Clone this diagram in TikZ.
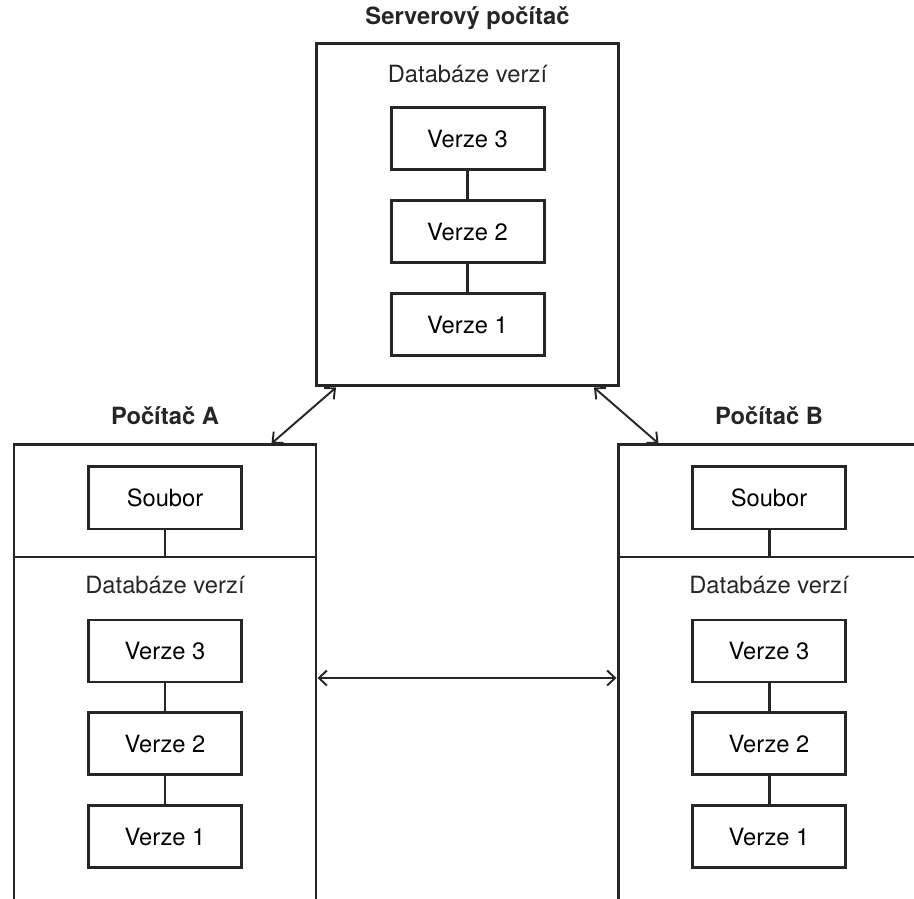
\documentclass[tikz,border=0pt]{standalone}
\usepackage{fontspec}
\setmainfont{TeX Gyre Heros}
\usepackage{tikz}
\usetikzlibrary{arrows.meta,positioning}

\begin{document}
\begin{tikzpicture}[
  node distance=0.56cm,
  font=\fontsize{13.5}{16}\selectfont,
  machine/.style={rectangle, draw=black!85, line width=1.7pt, minimum width=6.04cm,
                  inner sep=0pt},
  version/.style={rectangle, draw=black!85, line width=1.7pt, minimum width=3.06cm,
                  minimum height=1.24cm, inner sep=0pt},
  title/.style={font=\fontsize{13.5}{16}\selectfont\bfseries, text=black!85},
  label/.style={text=black!85},
  tie/.style={draw=black!85, line width=1.7pt},
  sync/.style={{Straight Barb[length=1.6mm,width=3mm]}-{Straight Barb[length=1.6mm,width=3mm]},
               draw=black!85, line width=1.1pt},
]
\useasboundingbox (0,0) rectangle (18.28,17.96);

% Server with its version database
\node[machine, minimum height=6.84cm] (srv) at (9.35,13.66) {};
\node[title] (srvtitle) at (9.35,17.6) {Serverový počítač};
\node[label] (srvdb) at (9.35,16.48) {Databáze verzí};
\node[version] (sv3) at (9.35,15.18) {Verze 3};
\node[version, below=of sv3] (sv2) {Verze 2};
\node[version, below=of sv2] (sv1) {Verze 1};

% Computer A (open at the bottom)
\node[machine, minimum height=9.56cm] (pcA) at (3.3,4.28) {};
\node[title, above=0.25cm of pcA.north] (titleA) {Počítač A};
\node[version, below=0.44cm of pcA.north] (fileA) {Soubor};
\coordinate (cutA) at (3.3,6.82);
\node[label] (dbA) at (3.3,6.26) {Databáze verzí};
\node[version] (av3) at (3.3,4.94) {Verze 3};
\node[version, below=of av3] (av2) {Verze 2};
\node[version, below=of av2] (av1) {Verze 1};

% Computer B (open at the bottom, cut at the right)
\node[machine, minimum height=9.56cm] (pcB) at (15.38,4.28) {};
\node[title, above=0.25cm of pcB.north] (titleB) {Počítač B};
\node[version, below=0.44cm of pcB.north] (fileB) {Soubor};
\coordinate (cutB) at (15.38,6.82);
\node[label] (dbB) at (15.38,6.26) {Databáze verzí};
\node[version] (bv3) at (15.38,4.94) {Verze 3};
\node[version, below=of bv3] (bv2) {Verze 2};
\node[version, below=of bv2] (bv1) {Verze 1};

% Dividers and version chains
\draw[tie] (pcA.west |- cutA) -- (pcA.east |- cutA);
\draw[tie] (pcB.west |- cutB) -- (pcB.east |- cutB);
\draw[tie] (fileA) -- (cutA);
\draw[tie] (fileB) -- (cutB);
\foreach \p in {s,a,b} {
  \draw[tie] (\p v3) -- (\p v2);
  \draw[tie] (\p v2) -- (\p v1);
}

% Synchronisation
\coordinate (peer) at (9.34,4.4);
\draw[sync] ([xshift=0.42cm]srv.south west) -- ([xshift=-0.92cm]pcA.north east);
\draw[sync] ([xshift=-0.52cm]srv.south east) -- ([xshift=0.84cm]pcB.north west);
\draw[sync] (pcA.east |- peer) -- (pcB.west |- peer);
\end{tikzpicture}
\end{document}
